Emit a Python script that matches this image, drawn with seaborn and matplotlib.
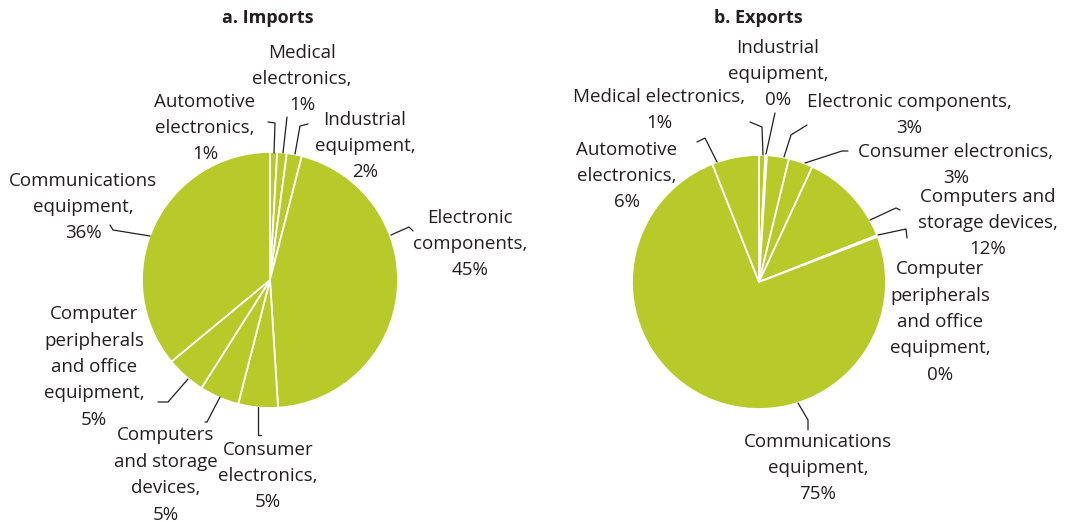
import matplotlib
matplotlib.use("Agg")
import matplotlib.pyplot as plt
import seaborn as sns

# ---------------- data ----------------
imp_labels = ["Automotive\nelectronics,", "Medical\nelectronics,", "Industrial\nequipment,",
              "Electronic\ncomponents,", "Consumer\nelectronics,",
              "Computers\nand storage\ndevices,", "Computer\nperipherals\nand office\nequipment,",
              "Communications\nequipment,"]
imp_values = [0.9, 1.2, 1.9, 45.0, 5.0, 5.0, 5.0, 36.0]

exp_labels = ["Medical electronics,", "Industrial\nequipment,", "Electronic components,",
              "Consumer electronics,", "Computers and\nstorage devices,",
              "Computer\nperipherals\nand office\nequipment,", "Communications\nequipment,",
              "Automotive\nelectronics,"]
exp_values = [0.8, 0.2, 2.8, 3.1, 12.1, 0.2, 74.8, 6.0]

titles = ["a. Imports", "b. Exports"]

# ---------------- layout (pixels, y from top) ----------------
W, H = 1067, 522
imp_center, imp_r = (270, 280), 128
exp_center, exp_r = (759, 282), 127

imp_text_pos = [(205, 128), (302, 79), (365, 146), (470, 244), (268, 476),
                (166, 475), (94, 367), (83, 207)]
imp_leaders = [
    [(268, 122), (275, 123), (274, 153)],
    [(287, 117), (283, 153)],
    [(308, 124), (300, 126), (295, 154)],
    [(413, 231), (409, 227), (391, 235)],
    [(261, 435), (258, 435), (258, 407)],
    [(205, 422), (207, 422), (220, 397)],
    [(158, 402), (168, 402), (188, 379)],
    [(110, 225), (113, 230), (150, 236)],
]

exp_text_pos = [(659, 110), (778, 74), (909, 115), (956, 165), (988, 223),
                (940, 322), (818, 468), (627, 176)]
exp_leaders = [
    [(750, 122), (762, 127), (763, 155)],
    [(775, 113), (766, 154)],
    [(807, 125), (791, 135), (784, 157)],
    [(848, 151), (842, 151), (805, 163)],
    [(900, 210), (896, 208), (870, 220)],
    [(907, 238), (906, 229), (878, 235)],
    [(808, 430), (808, 420), (798, 403)],
    [(697, 142), (705, 138), (717, 162)],
]
title_pos = [(268, 18), (758, 18)]

# ---------------- style ----------------
sns.set_theme(style="white")
plt.rcParams["font.family"] = ["Open Sans", "DejaVu Sans"]
pie_color = "#b8c92a"
text_color = "#231f20"

fig = plt.figure(figsize=(W / 100, H / 100), dpi=100)
ax = fig.add_axes([0, 0, 1, 1])


def fy(y):
    return H - y


def draw(values, labels, center, r, text_pos, leaders, title, tpos):
    ax.pie(values, center=(center[0], fy(center[1])), radius=r,
           startangle=90, counterclock=False,
           colors=sns.color_palette([pie_color] * len(values)),
           wedgeprops=dict(edgecolor="white", linewidth=1.3))
    total = sum(values)
    for lab, v, (tx, ty), pts in zip(labels, values, text_pos, leaders):
        txt = f"{lab}\n{round(v / total * 100):.0f}%"
        ax.text(tx, fy(ty), txt, ha="center", va="center", multialignment="center",
                fontsize=13.5, color=text_color, linespacing=1.6)
        ax.plot([p[0] for p in pts], [fy(p[1]) for p in pts], color=text_color, lw=0.9,
                solid_joinstyle="miter")
    ax.text(tpos[0], fy(tpos[1]), title, ha="center", va="center", fontsize=13,
            fontweight="bold", color=text_color)


draw(imp_values, imp_labels, imp_center, imp_r, imp_text_pos, imp_leaders, titles[0], title_pos[0])
draw(exp_values, exp_labels, exp_center, exp_r, exp_text_pos, exp_leaders, titles[1], title_pos[1])

ax.set_xlim(0, W)
ax.set_ylim(0, H)
ax.set_aspect("equal")
ax.axis("off")
fig.savefig("out.png", dpi=100, facecolor="white")
